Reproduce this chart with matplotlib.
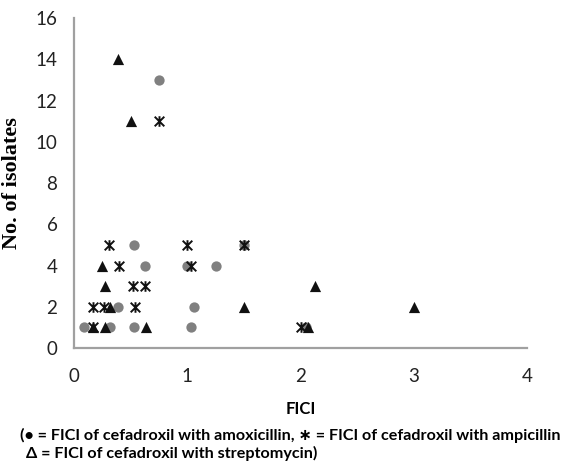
import numpy as np
import matplotlib.pyplot as plt
from matplotlib.path import Path

# FICI values and number of isolates
amox_x = [0.09, 0.32, 0.53, 1.03, 2.05, 0.39, 1.06, 0.63, 1.0, 1.25, 0.53, 1.5, 0.75]
amox_y = [1, 1, 1, 1, 1, 2, 2, 4, 4, 4, 5, 5, 13]

amp_x = [0.17, 2.0, 0.17, 0.26, 0.54, 0.52, 0.63, 0.40, 1.03, 0.31, 1.0, 1.5, 0.75]
amp_y = [1, 1, 2, 2, 2, 3, 3, 4, 4, 5, 5, 5, 11]

strep_x = [0.17, 0.27, 0.635, 2.07, 0.32, 1.5, 3.0, 0.27, 2.13, 0.25, 0.5, 0.39]
strep_y = [1, 1, 1, 1, 2, 2, 2, 3, 3, 4, 11, 14]

xticks = [0, 1, 2, 3, 4]
yticks = [0, 2, 4, 6, 8, 10, 12, 14, 16]

# X with a vertical bar through it, like the excel asterisk marker
star = Path([(-1, -1), (1, 1), (-1, 1), (1, -1), (0, -1.1), (0, 1.1)],
            [Path.MOVETO, Path.LINETO, Path.MOVETO, Path.LINETO, Path.MOVETO, Path.LINETO])

plt.rcParams['font.family'] = ['Lato', 'DejaVu Sans']

fig = plt.figure(figsize=(5.66, 4.66), dpi=100)
ax = fig.add_axes([0.131, 0.253, 0.8, 0.708])

ax.scatter(amox_x, amox_y, marker='o', s=55, color='#808080', linewidths=0, zorder=2)
ax.scatter(amp_x, amp_y, marker=star, s=58, color='#111111', linewidths=1.4, zorder=3)
ax.scatter(strep_x, strep_y, marker='^', s=65, color='#111111', linewidths=0, zorder=4)

ax.set_xlim(0, 4)
ax.set_ylim(0, 16)
ax.set_xticks(xticks)
ax.set_yticks(yticks)
ax.tick_params(length=0, labelsize=13.5, colors='#222222')
ax.tick_params(axis='x', pad=14)
ax.tick_params(axis='y', pad=12)

for s in ['top', 'right']:
    ax.spines[s].set_visible(False)
for s in ['left', 'bottom']:
    ax.spines[s].set_color('#a0a0a0')
    ax.spines[s].set_linewidth(1.6)

ax.set_ylabel('No. of isolates', family='Liberation Serif', fontweight='bold',
              fontsize=16, labelpad=10)
ax.set_xlabel('FICI', fontweight='bold', fontsize=12, labelpad=12)

fig.text(0.036, 0.066, '(\u2022 = FICI of cefadroxil with amoxicillin, \u2217 = FICI of cefadroxil with ampicillin',
         fontsize=11.6, fontweight='bold', va='center', ha='left')
fig.text(0.046, 0.027, '\u0394 = FICI of cefadroxil with streptomycin)',
         fontsize=11.6, fontweight='bold', va='center', ha='left')

fig.savefig('out.png', dpi=100)
